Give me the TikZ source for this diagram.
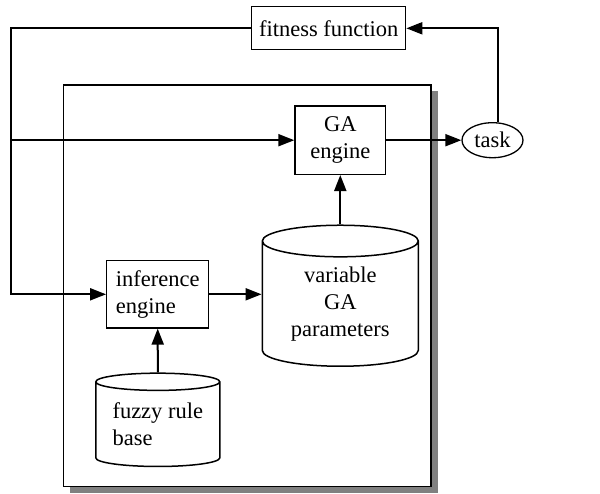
\documentclass[tikz,border=0pt]{standalone}
\usepackage{fontspec}
\setmainfont{Liberation Serif}
\usetikzlibrary{shapes.geometric,arrows.meta,shadows}

\begin{document}
\begin{tikzpicture}[x=1pt, y=1pt,
  font=\fontsize{22.5}{27}\selectfont,
  box/.style={draw, line width=1.3pt, inner sep=0pt},
  store/.style={draw, line width=1.5pt, cylinder, shape border rotate=90, inner sep=0pt},
  wire/.style={line width=2pt},
  arr/.style={wire, -{Triangle[length=16pt,width=12pt]}}]
\useasboundingbox (0,0) rectangle (600,-493);
% frame with its shadow
\node[draw, fill=white, line width=1.3pt, minimum width=367.7, minimum height=401.7,
  drop shadow={shadow xshift=6.5pt, shadow yshift=-6.5pt, fill=gray, opacity=1}] (frame) at (247.2,-285.8) {};
\node[box, minimum width=154, minimum height=43] (fitness) at (328.7,-28.3) {fitness function};
\node[box, minimum width=90.7, minimum height=68.3, align=center] (ga) at (340.3,-140.2) {GA\\engine};
\node[draw, ellipse, line width=1.3pt, minimum width=61, minimum height=35, inner sep=0pt] (task) at (492.5,-140.2) {task};
\node[store, minimum width=156, minimum height=141, aspect=0.32, align=center] (var) at (340.3,-304) {variable\\GA\\parameters};
\node[box, minimum width=102, minimum height=67.3, align=left] (inf) at (157.7,-294.3) {inference\\engine};
\node[store, minimum width=124, minimum height=93.3, aspect=0.19, align=left] (fuzzy) at (157.8,-424.5) {fuzzy rule\\base};
\coordinate (fb) at (11,-28.3);

% connectors
\draw[arr] (fitness.west) -| (fb |- inf.west) -- (inf.west);
\draw[arr] (fb |- ga.west) -- (ga.west);
\draw[arr] (ga.east) -- (task.west);
\draw[arr] (task.74) |- (fitness.east);
\draw[arr] (var.north) -- (ga.south);
\draw[arr] (inf.east) -- (inf.east -| var.west);
\draw[arr] (fuzzy.north) -- (inf.south);
\end{tikzpicture}
\end{document}
